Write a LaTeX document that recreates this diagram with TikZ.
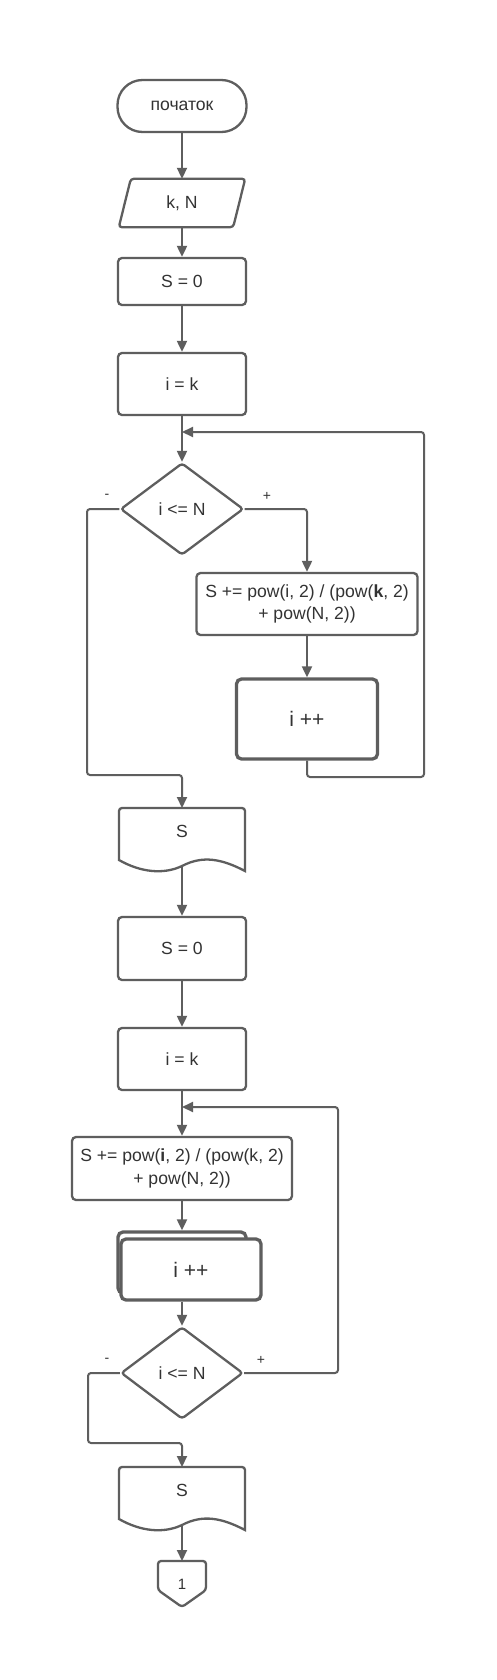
\documentclass[tikz,border=0pt]{standalone}
\usepackage{fontspec}
\setmainfont{Liberation Sans}
\usetikzlibrary{arrows.meta,shapes.geometric,calc}
\definecolor{ln}{HTML}{5E5E5E}
\definecolor{tx}{HTML}{333333}
\begin{document}
\begin{tikzpicture}[x=1pt,y=-1pt,
  base/.style={draw=ln, line width=2.3pt, fill=white, text=tx, inner sep=0pt, align=center,
    font=\fontsize{17.6}{22.5}\selectfont},
  procbox/.style={base, rectangle, rounded corners=4pt, minimum width=128pt},
  termbox/.style={base, rectangle, rounded corners=25pt, minimum width=129pt, minimum height=52pt},
  incbox/.style={base, rectangle, rounded corners=5pt, line width=3.3pt, font=\fontsize{21}{25}\selectfont},
  decbox/.style={base, diamond, rounded corners=3pt},
  txt/.style={text=tx, inner sep=0pt, font=\fontsize{17.6}{22.5}\selectfont},
  outline/.style={draw=ln, line width=2.3pt, fill=white},
  lbl/.style={text=tx, inner sep=0pt, font=\fontsize{14}{16}\selectfont},
  arr/.style={draw=ln, line width=2pt, rounded corners=3pt, -{Triangle[length=11pt,width=10pt]}},
]
\useasboundingbox (0,0) rectangle (496,1680);
\fill[white] (0,0) rectangle (496,1680);

% ---- first part
\node[termbox] (start) at (182,106) {початок};

\node[txt, minimum width=114pt, minimum height=48pt] (in) at (182,203) {k, N};
\draw[outline, rounded corners=3pt] ([xshift=6pt]in.north west) -- ([xshift=6pt]in.north east)
  -- ([xshift=-6pt]in.south east) -- ([xshift=-6pt]in.south west) -- cycle;
\node[txt] at (in) {k, N};

\node[procbox, minimum height=47pt] (s0a) at (182,281.5) {S = 0};
\node[procbox, minimum height=62pt] (ika) at (182,384) {i = k};
\node[decbox, minimum width=123pt, minimum height=92pt] (dia1) at (182,509) {i <= N};
\node[procbox, minimum width=221pt, minimum height=62pt] (body1) at (307,604)
  {S += pow(i, 2) / (pow(\textbf{k}, 2)\\+ pow(N, 2))};
\node[incbox, minimum width=141pt, minimum height=80pt] (inc1) at (307,719) {i ++};

\node[lbl] (mn1) at (107,496) {-};
\node[lbl] (pl1) at (267,496) {+};

\coordinate (l1j) at (182,432);
\coordinate (l1a) at (424,777);
\coordinate (m1a) at (87,775);
\coordinate (d1t) at (182,808);
\coordinate (d1b) at (182,866);

% document 1
\draw[outline] (119,860) [rounded corners=3pt] -- (119,808) -- (245,808) [sharp corners] -- (245,871)
  .. controls (222,859) and (203,855) .. (182,866)
  .. controls (163,875) and (140,872) .. (119,860) -- cycle;
\node[txt] (d1) at (182,831) {S};

\draw[arr] (start) -- (in);
\draw[arr] (in) -- (s0a);
\draw[arr] (s0a) -- (ika);
\draw[arr] (ika) -- (dia1);
\draw[arr] (dia1.east) -| (body1.north);
\draw[arr] (body1) -- (inc1);
\draw[arr] (inc1.south) |- (l1a) |- (l1j);
\draw[arr] (dia1.west) -| (m1a) -| (d1t);

% ---- second part
\node[procbox, minimum height=63pt] (s0b) at (182,948.5) {S = 0};
\node[procbox, minimum height=62pt] (ikb) at (182,1059) {i = k};
\node[procbox, minimum width=220pt, minimum height=63pt] (body2) at (182,1168.5)
  {S += pow(\textbf{i}, 2) / (pow(k, 2)\\+ pow(N, 2))};
\node[incbox, minimum width=128pt, minimum height=61pt] (inc2b) at (182,1262.5) {};
\node[incbox, minimum width=140pt, minimum height=61pt] (inc2) at (191,1269.5) {i ++};
\node[decbox, minimum width=122pt, minimum height=92pt] (dia2) at (182,1373) {i <= N};

\node[lbl] (mn2) at (107,1360) {-};
\node[lbl] (pl2) at (261,1360) {+};

\coordinate (l2j) at (182,1107);
\coordinate (l2a) at (338,1107);
\coordinate (m2a) at (88,1443);
\coordinate (d2t) at (182,1467);
\coordinate (d2b) at (182,1525);

% document 2
\draw[outline] (119,1519) [rounded corners=3pt] -- (119,1467) -- (245,1467) [sharp corners] -- (245,1530)
  .. controls (222,1518) and (203,1514) .. (182,1525)
  .. controls (163,1534) and (140,1531) .. (119,1519) -- cycle;
\node[txt] (d2) at (182,1490) {S};

% off-page connector
\draw[outline, rounded corners=3pt] (182,1607) -- (158,1590) -- (158,1561) -- (206,1561) -- (206,1590) -- cycle;
\node[txt, font=\fontsize{15}{18}\selectfont] (conn) at (182,1584) {1};
\coordinate (ct) at (182,1561);

\draw[arr] (d1b) -- (s0b);
\draw[arr] (s0b) -- (ikb);
\draw[arr] (ikb) -- (body2);
\draw[arr] (body2) -- (inc2b);
\draw[arr] (inc2.south -| dia2.north) -- (dia2.north);
\draw[arr] (dia2.east) -| (l2a) -- (l2j);
\draw[arr] (dia2.west) -| (m2a) -| (d2t);
\draw[arr] (d2b) -- (ct);
\end{tikzpicture}
\end{document}
